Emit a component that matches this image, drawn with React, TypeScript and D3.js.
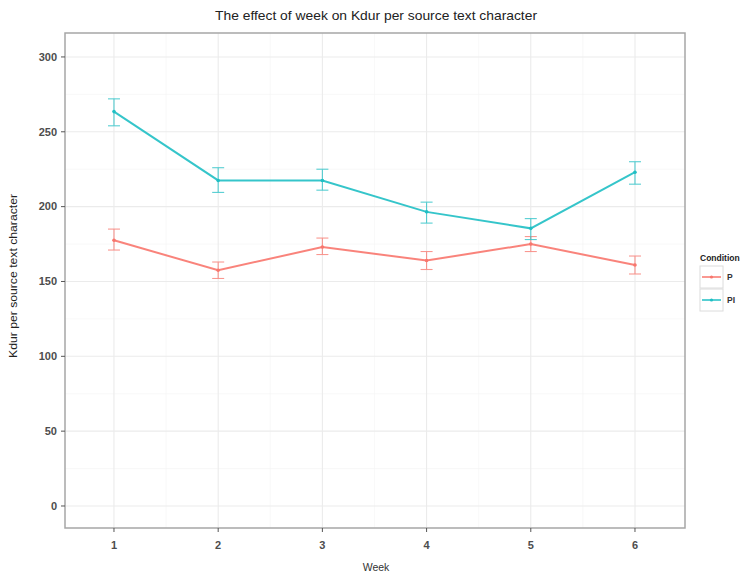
import React from "react";
import * as d3 from "d3";

const weeks = [1, 2, 3, 4, 5, 6];
const conditions = ["P", "PI"];
const colors = ["#F8766D", "#1FBFC4"];
const pMean = [177.5, 157.5, 173, 164, 175, 161];
const pLow = [171, 152, 168, 158, 170, 155];
const pHigh = [185, 163, 179, 170, 180, 167];
const piMean = [263.5, 217.5, 217.5, 196.5, 185.5, 223];
const piLow = [254, 209.5, 211, 189, 178, 215];
const piHigh = [272, 226, 225, 203, 192, 230];
const yTicks = [0, 50, 100, 150, 200, 250, 300];
const yMinor = [25, 75, 125, 175, 225, 275];
const xMinor = [1.5, 2.5, 3.5, 4.5, 5.5];

const series = [
  { name: conditions[0], color: colors[0], mean: pMean, low: pLow, high: pHigh },
  { name: conditions[1], color: colors[1], mean: piMean, low: piLow, high: piHigh },
];

export default function App() {
  const W = 746, H = 574;
  const left = 65, right = 685, top = 33, bottom = 528;
  const x = d3.scaleLinear().domain([0.53, 6.48]).range([left, right]);
  const y = d3.scaleLinear().domain([-14.7, 316]).range([bottom, top]);
  const line = d3.line<number>().x((_, i) => x(weeks[i])).y((d) => y(d));
  const font = "Liberation Sans, Arial, sans-serif";
  return (
    <svg width={W} height={H} style={{ position: "absolute", left: 0, top: 0 }} fontFamily={font}>
      <rect width={W} height={H} fill="#fff" />
      {yMinor.map((v) => (
        <line key={"ym" + v} x1={left} x2={right} y1={y(v)} y2={y(v)} stroke="#f4f4f4" strokeWidth={0.6} />
      ))}
      {xMinor.map((v) => (
        <line key={"xm" + v} y1={top} y2={bottom} x1={x(v)} x2={x(v)} stroke="#f4f4f4" strokeWidth={0.6} />
      ))}
      {yTicks.map((v) => (
        <line key={"yg" + v} x1={left} x2={right} y1={y(v)} y2={y(v)} stroke="#ebebeb" strokeWidth={1.1} />
      ))}
      {weeks.map((v) => (
        <line key={"xg" + v} y1={top} y2={bottom} x1={x(v)} x2={x(v)} stroke="#ebebeb" strokeWidth={1.1} />
      ))}
      {series.map((s) => (
        <g key={s.name}>
          {weeks.map((w, i) => (
            <g key={w} stroke={s.color} strokeWidth={1.1} opacity={0.75}>
              <line x1={x(w)} x2={x(w)} y1={y(s.low[i])} y2={y(s.high[i])} />
              <line x1={x(w) - 6} x2={x(w) + 6} y1={y(s.low[i])} y2={y(s.low[i])} />
              <line x1={x(w) - 6} x2={x(w) + 6} y1={y(s.high[i])} y2={y(s.high[i])} />
            </g>
          ))}
          <path d={line(s.mean) || ""} fill="none" stroke={s.color} strokeWidth={2} opacity={0.9} />
          {weeks.map((w, i) => (
            <circle key={"c" + w} cx={x(w)} cy={y(s.mean[i])} r={1.8} fill={s.color} />
          ))}
        </g>
      ))}
      <rect x={left} y={top} width={right - left} height={bottom - top} fill="none" stroke="#a6a6a6" strokeWidth={1.5} />
      {yTicks.map((v) => (
        <g key={"yt" + v}>
          <line x1={left - 4} x2={left} y1={y(v)} y2={y(v)} stroke="#555" />
          <text x={left - 8} y={y(v)} dy="0.35em" textAnchor="end" fontSize={11} fontWeight="bold" fill="#4d4d4d">{v}</text>
        </g>
      ))}
      {weeks.map((v) => (
        <g key={"xt" + v}>
          <line y1={bottom} y2={bottom + 4} x1={x(v)} x2={x(v)} stroke="#555" />
          <text x={x(v)} y={bottom + 21} textAnchor="middle" fontSize={11} fontWeight="bold" fill="#4d4d4d">{v}</text>
        </g>
      ))}
      <text x={376} y={20} textAnchor="middle" fontSize={13.5} fill="#222" textLength={322} lengthAdjust="spacingAndGlyphs">
        The effect of week on Kdur per source text character
      </text>
      <text x={376} y={571} textAnchor="middle" fontSize={10.5} fill="#333">Week</text>
      <text transform={`translate(17, 276) rotate(-90)`} textAnchor="middle" fontSize={11} fill="#222" textLength={164} lengthAdjust="spacingAndGlyphs">
        Kdur per source text character
      </text>
      <text x={700} y={261} fontSize={8.5} fontWeight="bold" fill="#222">Condition</text>
      {series.map((s, i) => (
        <g key={"lg" + s.name} transform={`translate(700, ${266 + i * 23})`}>
          <rect width={23} height={22} fill="#fff" stroke="#dcdcdc" strokeWidth={1} />
          <line x1={2} x2={21} y1={11} y2={11} stroke={s.color} strokeWidth={1.5} />
          <circle cx={11.5} cy={11} r={1.6} fill={s.color} />
          <text x={27} y={11} dy="0.35em" fontSize={8.5} fontWeight="bold" fill="#333">{s.name}</text>
        </g>
      ))}
    </svg>
  );
}
